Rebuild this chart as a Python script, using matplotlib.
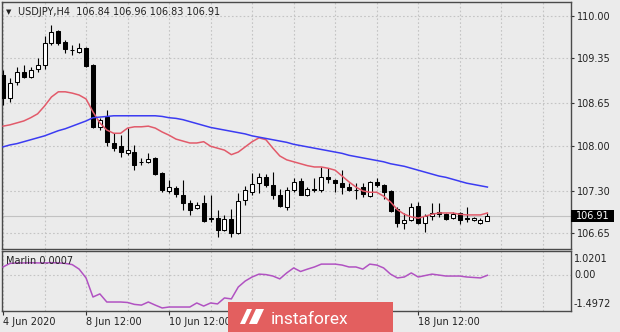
import matplotlib
matplotlib.use('Agg')
import matplotlib.pyplot as plt
import matplotlib.transforms as mtransforms
from matplotlib.patches import Rectangle, Polygon
import numpy as np
import pandas as pd

# ---------------- data ----------------
opens = [109.09, 108.73, 108.98, 109.14, 109.06, 109.18, 109.24, 109.58, 109.77, 109.60,
         109.48, 109.44, 109.51, 109.24, 108.29, 108.44, 108.04, 107.99, 107.89, 107.90,
         107.75, 107.75, 107.81, 107.58, 107.30, 107.35, 107.24, 107.11, 107.04, 107.11,
         106.87, 106.88, 106.70, 106.87, 106.65, 107.16, 107.28, 107.42, 107.52, 107.39,
         107.24, 107.05, 107.32, 107.45, 107.24, 107.33, 107.32, 107.51, 107.47, 107.42,
         107.36, 107.32, 107.36, 107.22, 107.44, 107.39, 107.30, 107.02, 106.81, 106.85,
         107.07, 106.81, 106.91, 106.98, 106.94, 106.88, 106.96, 106.88, 106.85, 106.81,
         106.84]
highs = [109.17, 109.04, 109.21, 109.24, 109.21, 109.35, 109.69, 109.86, 109.78, 109.63,
         109.55, 109.58, 109.52, 109.26, 108.43, 108.55, 108.19, 108.16, 108.27, 108.01,
         107.81, 107.89, 107.82, 107.59, 107.47, 107.38, 107.47, 107.16, 107.13, 107.24,
         107.24, 107.01, 106.93, 107.02, 107.27, 107.38, 107.58, 107.58, 107.56, 107.59,
         107.33, 107.36, 107.50, 107.50, 107.36, 107.50, 107.67, 107.65, 107.49, 107.62,
         107.42, 107.42, 107.42, 107.45, 107.50, 107.41, 107.32, 107.05, 106.96, 107.11,
         107.13, 106.94, 107.11, 107.11, 106.96, 106.98, 106.98, 107.05, 106.90, 106.88,
         106.96]
lows = [108.63, 108.67, 108.94, 109.04, 109.05, 109.14, 109.18, 109.55, 109.55, 109.43,
        109.40, 109.43, 109.21, 108.27, 108.24, 107.99, 107.92, 107.82, 107.86, 107.62,
        107.70, 107.73, 107.55, 107.28, 107.27, 107.21, 107.01, 106.93, 107.02, 106.82,
        106.82, 106.59, 106.68, 106.59, 106.64, 107.08, 107.24, 107.27, 107.36, 107.18,
        107.05, 107.01, 107.28, 107.24, 107.22, 107.28, 107.28, 107.42, 107.28, 107.25,
        107.30, 107.18, 107.21, 107.21, 107.36, 107.18, 106.98, 106.74, 106.71, 106.84,
        106.79, 106.67, 106.85, 106.90, 106.85, 106.87, 106.79, 106.82, 106.84, 106.79,
        106.83]
closes = [108.73, 108.97, 109.14, 109.06, 109.17, 109.24, 109.58, 109.75, 109.58, 109.49,
          109.47, 109.51, 109.23, 108.29, 108.40, 108.06, 107.96, 107.90, 107.93, 107.70,
          107.74, 107.79, 107.56, 107.32, 107.36, 107.25, 107.11, 107.01, 107.08, 106.84,
          106.88, 106.70, 106.87, 106.65, 107.15, 107.32, 107.41, 107.52, 107.39, 107.24,
          107.07, 107.32, 107.44, 107.24, 107.33, 107.32, 107.52, 107.49, 107.42, 107.36,
          107.32, 107.31, 107.26, 107.44, 107.39, 107.28, 106.99, 106.81, 106.85, 107.05,
          106.81, 106.91, 106.96, 106.94, 106.87, 106.94, 106.85, 106.87, 106.88, 106.85,
          106.91]
ma_fast = [108.30, 108.32, 108.35, 108.38, 108.43, 108.49, 108.61, 108.75, 108.83, 108.83,
           108.81, 108.78, 108.72, 108.52, 108.35, 108.24, 108.19, 108.19, 108.27, 108.29,
           108.29, 108.30, 108.27, 108.21, 108.16, 108.10, 108.07, 108.04, 108.04, 108.06,
           107.99, 107.96, 107.93, 107.86, 107.90, 107.98, 108.06, 108.12, 108.09, 107.96,
           107.84, 107.78, 107.75, 107.72, 107.69, 107.67, 107.67, 107.65, 107.62, 107.53,
           107.44, 107.36, 107.30, 107.28, 107.28, 107.22, 107.13, 107.01, 106.94, 106.90,
           106.88, 106.91, 106.94, 106.96, 106.96, 106.96, 106.94, 106.93, 106.93, 106.93,
           106.96]
ma_slow = [107.98, 108.01, 108.03, 108.06, 108.09, 108.12, 108.15, 108.19, 108.23, 108.26,
           108.30, 108.34, 108.38, 108.43, 108.44, 108.45, 108.46, 108.46, 108.46, 108.46,
           108.46, 108.46, 108.46, 108.45, 108.43, 108.42, 108.40, 108.37, 108.34, 108.31,
           108.28, 108.26, 108.24, 108.22, 108.20, 108.18, 108.15, 108.13, 108.11, 108.09,
           108.07, 108.05, 108.02, 108.00, 107.98, 107.96, 107.94, 107.92, 107.90, 107.88,
           107.85, 107.83, 107.81, 107.79, 107.77, 107.75, 107.72, 107.70, 107.68, 107.65,
           107.62, 107.59, 107.56, 107.53, 107.51, 107.48, 107.45, 107.42, 107.40, 107.38,
           107.36]
marlin = [0.35, 0.50, 0.52, 0.52, 0.53, 0.52, 0.52, 0.53, 0.52, 0.50,
          0.45, 0.26, -0.11, -0.91, -0.78, -1.12, -1.12, -1.12, -1.14, -1.22,
          -1.25, -1.12, -1.25, -1.37, -1.33, -1.33, -1.33, -1.33, -1.16, -1.29,
          -1.16, -1.20, -0.95, -0.99, -0.49, -0.24, -0.07, 0.05, 0.03, -0.03,
          -0.15, 0.10, 0.31, 0.16, 0.26, 0.35, 0.47, 0.47, 0.47, 0.43,
          0.35, 0.35, 0.26, 0.47, 0.43, 0.31, 0.05, -0.11, -0.07, 0.10,
          -0.07, -0.01, 0.05, 0.01, -0.03, -0.03, -0.03, -0.07, -0.09, -0.11,
          0.0007]

price_ticks = [110.00, 109.35, 108.65, 108.00, 107.30, 106.65]
price_tick_labels = ['110.00', '109.35', '108.65', '108.00', '107.30', '106.65']
ind_ticks = [1.0201, 0.0, -1.4972]
ind_tick_labels = ['1.0201', '0.00', '-1.4972']
date_tick_times = ['2020-06-04 12:00', '2020-06-08 12:00', '2020-06-10 12:00',
                   '2020-06-12 12:00', '2020-06-16 12:00', '2020-06-18 12:00']
# the 12 Jun and 16 Jun labels are hidden under the watermark in the reference
date_tick_labels = ['4 Jun 2020', '8 Jun 12:00', '10 Jun 12:00',
                    '', '', '18 Jun 12:00']
last_price = 106.91
title_text = 'USDJPY,H4  106.84 106.96 106.83 106.91'
ind_title = 'Marlin 0.0007'
watermark = 'instaforex'

# ---------------- derived ----------------
n = len(closes)
all_times = pd.date_range('2020-06-04 12:00', periods=200, freq='4h')
bar_times = all_times[all_times.dayofweek < 5][:n]
tick_idx = [bar_times.get_loc(pd.Timestamp(t)) for t in date_tick_times]

o = np.array(opens); h = np.array(highs); l = np.array(lows); c = np.array(closes)
x = np.arange(n)

# ---------------- figure ----------------
W, H = 620, 332
bg = '#ebebeb'
fig = plt.figure(figsize=(W / 100, H / 100), dpi=100, facecolor=bg)

def frac(x0, y0, x1, y1):
    return [x0 / W, 1 - y1 / H, (x1 - x0) / W, (y1 - y0) / H]

ax = fig.add_axes(frac(2, 2, 571, 249))
ax2 = fig.add_axes(frac(2, 251, 571, 311), sharex=ax)

bar_px = 6.92
xlim = (-1 / bar_px, (571 - 3) / bar_px)

grid_kw = dict(color='#c4c4c4', linestyle=(0, (1.5, 2)), linewidth=0.8)
for a in (ax, ax2):
    a.set_facecolor(bg)
    for s in a.spines.values():
        s.set_color('#4a4a4a')
        s.set_linewidth(1.0)
    a.set_axisbelow(True)

# main panel
ax.set_xlim(*xlim)
ax.set_ylim(106.404, 110.216)
ax.set_xticks(tick_idx)
ax.set_xticks(np.arange(6, 84, 6), minor=True)
ax.grid(True, which='both', axis='x', **grid_kw)
ax.set_yticks(price_ticks, price_tick_labels)
ax.grid(True, which='major', axis='y', **grid_kw)
ax.yaxis.tick_right()
ax.tick_params(axis='y', length=2.5, width=0.8, color='#333333', pad=1.5,
               labelsize=7, labelcolor='#222222')
ax.tick_params(axis='x', which='both', bottom=False, labelbottom=False)

ax.axhline(last_price, color='#c2c2c2', lw=0.8, zorder=1)

up = c >= o
body_bot = np.minimum(o, c)
body_h = np.maximum(np.abs(c - o), 0.003)
ax.vlines(x, l, h, color='black', lw=0.8, zorder=3)
ax.bar(x, body_h, bottom=body_bot, width=0.58,
       color=np.where(up, 'white', 'black'), edgecolor='black', linewidth=0.75, zorder=4)

ax.plot(x, ma_fast, color='#e25a6a', lw=1.1, zorder=5)
ax.plot(x, ma_slow, color='#3b3bf2', lw=1.1, zorder=5)

# current price label
ax.add_patch(Rectangle((1.0, last_price - 0.094), 43 / 569, 0.188,
                       transform=ax.get_yaxis_transform(), facecolor='black',
                       edgecolor='none', clip_on=False, zorder=10))
ax.text(1.0, last_price, f'{last_price:.2f}', color='white', fontsize=7,
        va='center', ha='left', clip_on=False, zorder=11,
        transform=mtransforms.offset_copy(ax.get_yaxis_transform(), fig=fig,
                                          x=5, y=0, units='dots'))

# indicator panel
ax2.plot(x, marlin, color='#b152c2', lw=1.1, zorder=4)
ax2.set_ylim(-1.4972, 1.0201)
ax2.set_yticks(ind_ticks)
ax2.yaxis.tick_right()
ax2.tick_params(axis='y', length=0, labelright=False)
ax2.axhline(0, **grid_kw)
ax2.set_xticks(tick_idx, date_tick_labels)
ax2.set_xticks(np.arange(6, 84, 6), minor=True)
ax2.grid(True, which='both', axis='x', **grid_kw)
ax2.tick_params(axis='x', which='major', length=3, width=0.8, color='#333333',
                pad=1.5, labelsize=7, labelcolor='#222222')
ax2.tick_params(axis='x', which='minor', length=0)
for lab in ax2.get_xticklabels():
    lab.set_horizontalalignment('left')
ax2.set_xlim(*xlim)

for v, lab, dy in zip(ind_ticks, ind_tick_labels, [-8, 0, 7]):
    ax2.text(1.0, v, lab, fontsize=7, color='#222222', va='center', ha='left',
             clip_on=False,
             transform=mtransforms.offset_copy(ax2.get_yaxis_transform(), fig=fig,
                                               x=3, y=dy, units='dots'))

# titles
fig.text(6 / W, 1 - 12 / H, '\u25BC', fontsize=5, color='#222222', va='center', ha='left')
fig.text(18 / W, 1 - 12 / H, title_text, fontsize=7, color='#222222', va='center', ha='left')
fig.text(6 / W, 1 - 261 / H, ind_title, fontsize=7, color='#222222', va='center', ha='left')

# watermark
fig.add_artist(Rectangle((228 / W, 0), 165 / W, 30 / H, transform=fig.transFigure,
                         facecolor='#e35f5f', edgecolor='none', zorder=20))
logo_a = [(240, 324), (247, 309), (252, 309), (245, 324)]
logo_b = [(249, 324), (256, 309), (264, 309), (257, 324)]
for poly in (logo_a, logo_b):
    fig.add_artist(Polygon([(px / W, 1 - py / H) for px, py in poly], closed=True,
                           transform=fig.transFigure, facecolor='white',
                           edgecolor='none', zorder=21))
fig.text(271 / W, 1 - 324 / H, watermark, fontsize=12.5, family='Roboto',
         color='white', va='baseline', ha='left', zorder=21)

fig.savefig('out.png', dpi=100, facecolor=bg)
